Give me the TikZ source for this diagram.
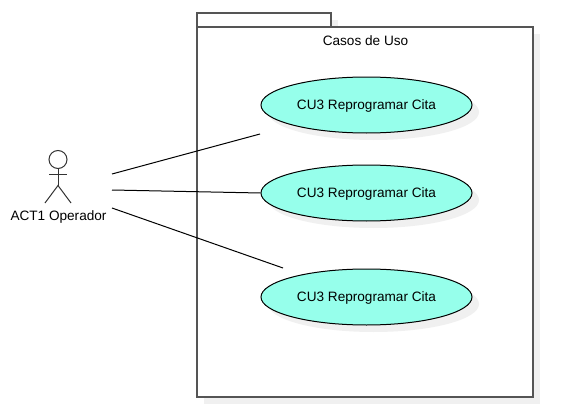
\documentclass[tikz,border=0pt]{standalone}
\usepackage{fontspec}
\setmainfont{Liberation Sans}
\usepackage{xcolor}
\usetikzlibrary{shapes,positioning,calc}
\definecolor{usecasefill}{HTML}{96FFEB}
\definecolor{shadowgray}{HTML}{F0F0F0}
\definecolor{framegray}{HTML}{555555}

\begin{document}
\begin{tikzpicture}[
    x=0.75pt, y=-0.75pt,
    usecase/.style={ellipse, draw=black, fill=usecasefill, line width=0.75pt, minimum width=158.25pt, minimum height=42pt, inner sep=0pt, text depth=0pt, font=\fontsize{10.2}{12}\selectfont},
    usecaseshadow/.style={ellipse, fill=shadowgray, minimum width=158.25pt, minimum height=42pt, inner sep=0pt},
    frameshadow/.style={fill=shadowgray},
    frame/.style={draw=framegray, fill=white, line width=1.1pt},
    link/.style={black, line width=0.75pt},
    stick/.style={draw=black!80, line width=0.75pt},
    label/.style={font=\fontsize{10.2}{12}\selectfont, inner sep=0pt}
]
\useasboundingbox (0,0) rectangle (565,414);

% Package
\fill[frameshadow] (204,20) rectangle (338,34);
\fill[frameshadow] (204,34) rectangle (540,404);
\draw[frame] (197,13) rectangle (331,27);
\draw[frame] (197,27) rectangle (533,397);
\node[label] (title) at (365.5,40.5) {Casos de Uso};

% Use cases
\node[usecaseshadow] at (373.5,112) {};
\node[usecaseshadow] at (373.5,200) {};
\node[usecaseshadow] at (373.5,304) {};
\node[usecase] (cu1) at (366.5,105) {CU3 Reprogramar Cita};
\node[usecase] (cu2) at (366.5,193) {CU3 Reprogramar Cita};
\node[usecase] (cu3) at (366.5,297) {CU3 Reprogramar Cita};

% Actor
\node[circle, stick, minimum size=13.5pt, inner sep=0pt] (head) at (58,159.5) {};
\coordinate (hip) at (58,185.5);
\coordinate (armL) at (49,174);
\coordinate (armR) at (67,174);
\coordinate (footL) at (45,203);
\coordinate (footR) at (71,203);
\draw[stick] (head.south) -- (hip);
\draw[stick] (armL) -- (armR);
\draw[stick] (footL) -- (hip) -- (footR);
\node[label] (actor) at (58.5,216.5) {ACT1 Operador};

% Links
\coordinate (from1) at (112,174);
\coordinate (from2) at (112,190);
\coordinate (from3) at (112,208);
\coordinate (to1) at (260,134);
\coordinate (to3) at (283,268);
\draw[link] (from1) -- (to1);
\draw[link] (from2) -- (cu2.west);
\draw[link] (from3) -- (to3);

\end{tikzpicture}
\end{document}
